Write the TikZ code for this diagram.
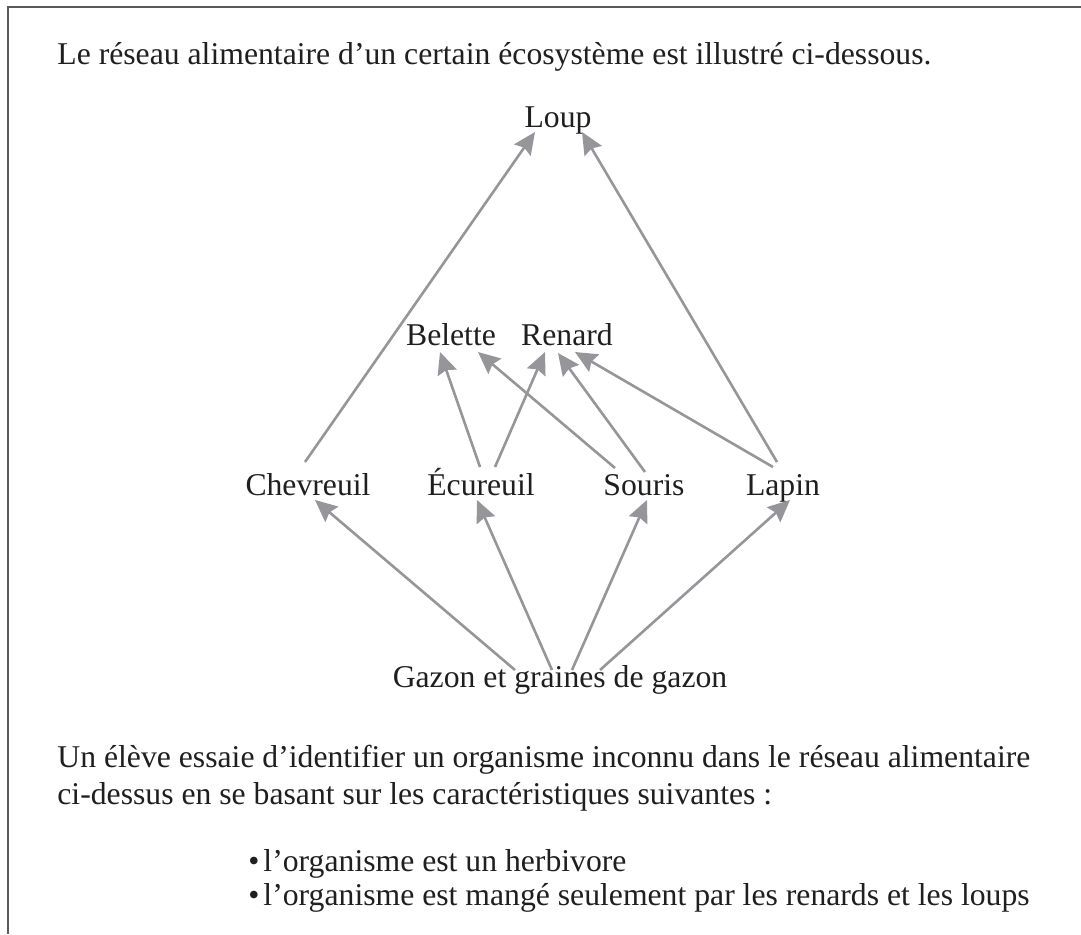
\documentclass[tikz,border=0pt]{standalone}
\usepackage{fontspec}
\setmainfont{Liberation Serif}
\usetikzlibrary{calc,arrows.meta}
\definecolor{edgegray}{RGB}{150,150,154}
\definecolor{framegray}{RGB}{90,90,90}
\begin{document}
\begin{tikzpicture}[x=0.5pt,y=-0.5pt,
  every node/.style={font=\fontsize{15.85pt}{19pt}\selectfont,inner sep=0pt,text=black!88},
  sp/.style={anchor=base},
  txt/.style={anchor=base west},
  eat/.style={edgegray,line width=1.3pt,-{Stealth[length=11pt,width=10pt,inset=1.5pt]}}]
  \useasboundingbox (0,0) rectangle (1081,934);
  \draw[framegray,line width=1pt] (1081,7) -- (8,7) -- (8,934);
  \node[txt] (intro) at (57,64) {Le réseau alimentaire d’un certain écosystème est illustré ci-dessous.};
  \node[sp] (loup) at (558,127) {Loup};
  \node[sp] (bel) at (451,345) {Belette};
  \node[sp] (ren) at (567,345) {Renard};
  \node[sp] (chev) at (308,495) {Chevreuil};
  \node[sp] (ecu) at (481,495) {Écureuil};
  \node[sp] (sou) at (644,495) {Souris};
  \node[sp] (lap) at (783,495) {Lapin};
  \node[sp] (gaz) at (560,687) {Gazon et graines de gazon};
  \draw[eat] ($(chev.base)+(-3,-33)$) -- ($(loup.base)+(-23,5)$);
  \draw[eat] ($(lap.base)+(-6,-33)$) -- ($(loup.base)+(24,5)$);
  \draw[eat] ($(ecu.base)+(-1,-28)$) -- ($(bel.base)+(-11,7)$);
  \draw[eat] ($(sou.base)+(-29,-27)$) -- ($(bel.base)+(27,7)$);
  \draw[eat] ($(ecu.base)+(14,-28)$) -- ($(ren.base)+(-22,7)$);
  \draw[eat] ($(sou.base)+(1,-23)$) -- ($(ren.base)+(-9,8)$);
  \draw[eat] ($(lap.base)+(-10,-28)$) -- ($(ren.base)+(8,7)$);
  \draw[eat] ($(gaz.base)+(-45,-17)$) -- ($(chev.base)+(7,5)$);
  \draw[eat] ($(gaz.base)+(-8,-17)$) -- ($(ecu.base)+(-4,5)$);
  \draw[eat] ($(gaz.base)+(12,-17)$) -- ($(sou.base)+(3,5)$);
  \draw[eat] ($(gaz.base)+(40,-17)$) -- ($(lap.base)+(7,5)$);
  \node[txt] (q1) at (57,767) {Un élève essaie d’identifier un organisme inconnu dans le réseau alimentaire};
  \node[txt] (q2) at (57,804) {ci-dessus en se basant sur les caractéristiques suivantes :};
  \node[txt] (c1) at (248,871) {•\kern2pt l’organisme est un herbivore};
  \node[txt] (c2) at (248,905) {•\kern2pt l’organisme est mangé seulement par les renards et les loups};
\end{tikzpicture}
\end{document}
